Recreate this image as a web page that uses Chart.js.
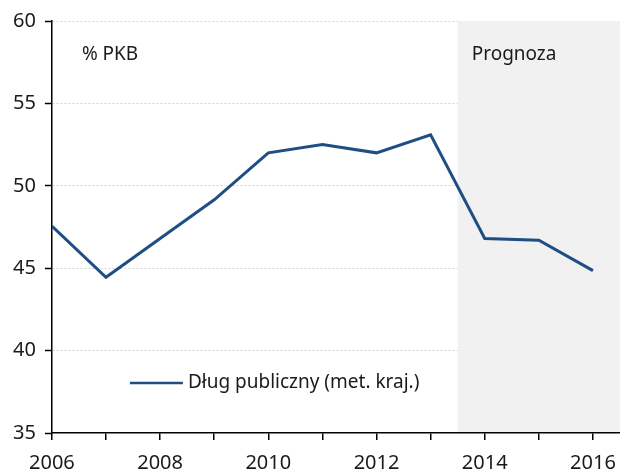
<!DOCTYPE html>
<html>
<head>
<meta charset="utf-8">
<script src="https://cdn.jsdelivr.net/npm/chart.js@4"></script>
<style>
  body{margin:0;background:#fff}
</style>
</head>
<body>
<canvas id="debt_chart" width="620" height="473"></canvas>
<script>
// data
const years=[2006,2007,2008,2009,2010,2011,2012,2013,2014,2015,2016]
const debt=[47.55,44.45,46.8,49.15,52.0,52.5,52.0,53.1,46.8,46.7,44.85]
const seriesName="Dług publiczny (met. kraj.)"
const unitLabel="% PKB"
const forecastLabel="Prognoza"
const forecastStart=2013.5
const yTicks=[35,40,45,50,55,60]

const txtFont='"Noto Sans", sans-serif'

const points=[]
for(let i=0;i<years.length;i++){
  points.push({x:years[i],y:debt[i]})
}

// grey box behind the forecast years + texts + legend
const extras={
  id:'extras',
  beforeDatasetsDraw(chart){
    const ctx=chart.ctx
    const a=chart.chartArea
    const xs=chart.scales.x
    const x0=xs.getPixelForValue(forecastStart)
    ctx.save()
    ctx.fillStyle='#f1f1f1'
    ctx.fillRect(x0,a.top,chart.width-x0,a.bottom-a.top-1)
    ctx.restore()
  },
  afterDatasetsDraw(chart){
    const ctx=chart.ctx
    const a=chart.chartArea
    const xs=chart.scales.x
    const x0=xs.getPixelForValue(forecastStart)
    ctx.save()
    ctx.fillStyle='#1a1a1a'
    ctx.font='19px '+txtFont
    ctx.textBaseline='middle'
    ctx.textAlign='left'
    ctx.fillText(unitLabel,a.left+30,a.top+34)
    ctx.fillText(forecastLabel,x0+14,a.top+34)
    // legend
    const ly=a.bottom-50
    ctx.strokeStyle='#1f4e84'
    ctx.lineWidth=2.5
    ctx.beginPath()
    ctx.moveTo(a.left+78,ly)
    ctx.lineTo(a.left+131,ly)
    ctx.stroke()
    ctx.fillText(seriesName,a.left+136,ly)
    ctx.restore()
  }
}

new Chart('debt_chart',{
  type:'line',
  data:{
    datasets:[{
      label:seriesName,
      data:points,
      borderColor:'#1f4e84',
      borderWidth:3,
      pointRadius:0,
      tension:0,
      fill:false
    }]
  },
  options:{
    responsive:false,
    animation:false,
    layout:{padding:{top:10,right:0,left:4,bottom:0}},
    plugins:{
      legend:{display:false},
      tooltip:{enabled:false}
    },
    scales:{
      x:{
        type:'linear',
        min:2006,
        max:2016.5,
        border:{color:'#000',width:1.5},
        grid:{drawOnChartArea:false,drawTicks:true,tickLength:7,tickColor:'#000',lineWidth:1.5},
        afterFit:axis=>{
          axis.height=40
          axis.paddingRight=0
        },
        ticks:{
          stepSize:1,
          autoSkip:false,
          includeBounds:false,
          maxRotation:0,
          color:'#1a1a1a',
          font:{family:txtFont,size:20,lineHeight:1},
          padding:13,
          callback:v=>v%2===0?String(v):''
        }
      },
      y:{
        min:35,
        max:60,
        border:{color:'#000',width:1.5,dash:[2,2]},
        grid:{
          color:ctx=>ctx.tick && ctx.tick.value===35?'rgba(0,0,0,0)':'#d4d4d4',
          lineWidth:1,
          tickLength:7,
          tickColor:'#000',
          tickBorderDash:[],
          tickWidth:1.5
        },
        afterBuildTicks:axis=>{axis.ticks=yTicks.map(v=>({value:v}))},
        ticks:{
          color:'#1a1a1a',
          font:{family:txtFont,size:20},
          padding:9
        }
      }
    }
  },
  plugins:[extras]
})
</script>
</body>
</html>
